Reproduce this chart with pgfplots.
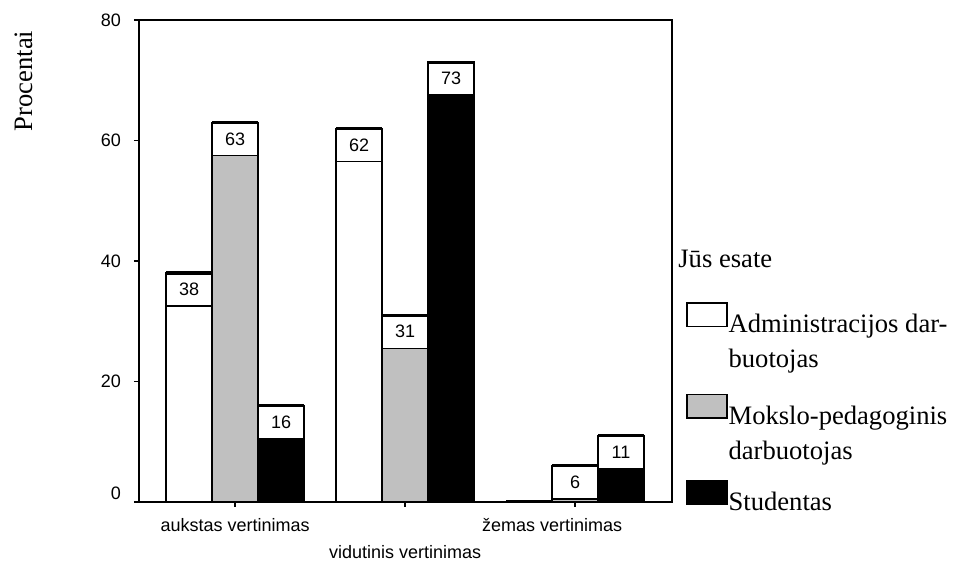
\documentclass[border=0pt]{standalone}
\usepackage{fontspec}
\setmainfont{Liberation Serif}
\setsansfont{Liberation Sans}
\usepackage{pgfplots}
\pgfplotsset{compat=1.18}

\definecolor{barGray}{RGB}{192,192,192}

\newcommand{\valfont}{\sffamily\fontsize{9}{10}\selectfont}
\newcommand{\tickfont}{\sffamily\fontsize{9}{10}\selectfont}
\newcommand{\serifbig}{\rmfamily\fontsize{13.3}{17.5}\selectfont}

% value box sitting at the top of each bar, with a heavy rule on top
\pgfplotsset{
  valuebox/.style={
    nodes near coords={\pgfmathprintnumber[assume math mode=true]{\pgfplotspointmeta}},
    every node near coord/.append style={
      anchor=north, fill=white, draw=black, text=black,
      line width=0.7pt, minimum width=23pt, minimum height=16.5pt,
      inner sep=0pt, outer sep=0pt, font=\valfont,
      append after command={(\tikzlastnode.north west) edge[line width=1.6pt, draw=black] (\tikzlastnode.north east)}
    },
  },
  % legend swatch; the invisible point reserves room for a wrapped entry
  swatch/.style={
    legend image code/.code={%
      \draw[##1, line width=0.8pt] (0pt,3.25pt) rectangle (20pt,15pt);
      \path (0pt,-#1);}
  },
}

\begin{document}
\begin{tikzpicture}
\begin{axis}[
  name=ax,
  scale only axis,
  width=266.5pt, height=241pt,
  ybar, bar width=23pt,
  xmin=-0.565, xmax=2.57,
  ymin=0, ymax=80,
  ytick={0,20,40,60,80},
  yticklabels={\raisebox{9pt}{0},20,40,60,80},
  xtick={0,2},
  xticklabels={aukstas vertinimas,{\hspace*{-23pt}žemas vertinimas}},
  extra x ticks={1},
  extra x tick labels={vidutinis vertinimas},
  extra x tick style={xticklabel style={yshift=-13.5pt}},
  tick pos=left,
  tick align=outside,
  major tick length=2.5pt,
  axis line style={line width=0.8pt},
  tick style={line width=0.8pt, black},
  ticklabel style={font=\tickfont},
  xticklabel style={anchor=base, yshift=-12.5pt, inner sep=1pt},
  yticklabel style={xshift=-3pt},
  ylabel={Procentai},
  ylabel style={at={(axis description cs:-0.2158,0.8734)}, anchor=center, font=\serifbig},
  legend style={draw=none, fill=none, inner sep=0pt, outer sep=0pt,
    at={(axis description cs:1.0263,0.4149)}, anchor=north west,
    font=\serifbig, row sep=0pt, column sep=-1.5pt,
    cells={anchor=base west, inner sep=0pt}},
]
\addplot[fill=white, draw=black, line width=0.8pt, bar shift=-23pt, valuebox, swatch=30.1pt]
  coordinates {(0,38) (1,62)};
\addlegendentry{\begin{tabular}[t]{@{}l@{}}Administracijos dar-\\buotojas\end{tabular}}
\addplot[fill=barGray, draw=black, line width=0.8pt, bar shift=0pt, valuebox, swatch=27.1pt]
  coordinates {(0,63) (1,31) (2,6)};
\addlegendentry{\begin{tabular}[t]{@{}l@{}}Mokslo-pedagoginis\\darbuotojas\end{tabular}}
\addplot[fill=black, draw=black, line width=0.8pt, bar shift=23pt, valuebox, swatch=5pt]
  coordinates {(0,16) (1,73) (2,11)};
\addlegendentry{Studentas}
% zero-height administration bar in the last group: only its heavy top rule shows
\addplot[fill=white, draw=black, line width=1.6pt, bar shift=-23pt, forget plot]
  coordinates {(2,0)};
\end{axis}
\node[anchor=base west, font=\serifbig, inner sep=0pt] at ([xshift=269.5pt,yshift=117pt]ax.south west) {Jūs esate};
\pgfresetboundingbox
\path[use as bounding box] ([xshift=-69.5pt,yshift=-30pt]ax.south west) rectangle ([xshift=408pt,yshift=251pt]ax.south west);
\end{tikzpicture}
\end{document}
